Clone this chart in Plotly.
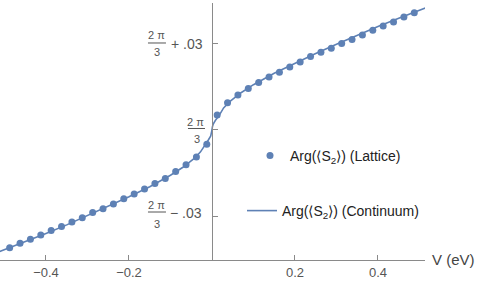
import plotly.graph_objects as go

# ---- data ----
TWO_PI_3 = 2.0944  # 2*pi/3

lattice_V = [-0.4875, -0.4625, -0.4375, -0.4125, -0.3875, -0.3625, -0.3375, -0.3125,
             -0.2875, -0.2625, -0.2375, -0.2125, -0.1875, -0.1625, -0.1375, -0.1125,
             -0.0875, -0.0625, -0.0375, -0.0125,
             0.0125, 0.0375, 0.0625, 0.0875, 0.1125, 0.1375, 0.1625, 0.1875,
             0.2125, 0.2375, 0.2625, 0.2875, 0.3125, 0.3375, 0.3625, 0.3875,
             0.4125, 0.4375, 0.4625, 0.4875]
lattice_arg = [2.0533, 2.0549, 2.0563, 2.0578, 2.0593, 2.0607, 2.0623, 2.0638,
               2.0656, 2.0669, 2.0686, 2.0704, 2.0721, 2.0738, 2.0757, 2.0775,
               2.0799, 2.0823, 2.0850, 2.0894,
               2.0996, 2.1039, 2.1066, 2.1089, 2.1110, 2.1129, 2.1145, 2.1164,
               2.1181, 2.1200, 2.1215, 2.1229, 2.1246, 2.1260, 2.1275, 2.1292,
               2.1307, 2.1321, 2.1338, 2.1353]

cont_V = [-0.515, -0.45, -0.4, -0.35, -0.3, -0.25, -0.2, -0.15, -0.1, -0.07, -0.045,
          -0.028, -0.017, -0.008, -0.003, -0.001, 0.0,
          0.001, 0.003, 0.008, 0.017, 0.028, 0.045, 0.07, 0.1, 0.15, 0.2, 0.25,
          0.3, 0.35, 0.4, 0.45, 0.515]
cont_arg = [2.0518, 2.0554, 2.0583, 2.0613, 2.0645, 2.0677, 2.0711, 2.0746, 2.0786,
            2.0814, 2.0842, 2.0867, 2.0894, 2.0911, 2.0923, 2.0933, 2.0944,
            2.0955, 2.0965, 2.0977, 2.0994, 2.1021, 2.1046, 2.1074, 2.1102, 2.1142,
            2.1177, 2.1211, 2.1243, 2.1275, 2.1305, 2.1334, 2.1370]

x_tickvals = [-0.4, -0.2, 0.2, 0.4]
x_ticktext = ["\u22120.4", "\u22120.2", "0.2", "0.4"]
y_tickvals = [TWO_PI_3 - 0.03, TWO_PI_3, TWO_PI_3 + 0.03]

BLUE = "#5E81B5"
AXIS = "#8a8a8a"
TICKFONT = "#555555"
FONT = "Liberation Sans, Arial, sans-serif"

fig = go.Figure()
fig.add_trace(go.Scatter(
    x=lattice_V, y=lattice_arg, mode="markers",
    marker=dict(color=BLUE, size=7),
    name="Arg(\u27e8S<sub>2</sub>\u27e9) (Lattice)", legend="legend"))
fig.add_trace(go.Scatter(
    x=cont_V, y=cont_arg, mode="lines", line=dict(color=BLUE, width=1.6),
    name="Arg(\u27e8S<sub>2</sub>\u27e9) (Continuum)", legend="legend2"))

annotations = []
shapes = []

def frac_label(yval, num_dx, num_dy, bar_x0, bar_x1, bar_dy, den_dx, den_dy, tail=None):
    annotations.append(dict(x=0, y=yval, xref="x", yref="y", text="2 \u03c0", showarrow=False,
                            xanchor="center", yanchor="middle", xshift=num_dx, yshift=num_dy,
                            font=dict(size=11, color=TICKFONT, family=FONT)))
    annotations.append(dict(x=0, y=yval, xref="x", yref="y", text="3", showarrow=False,
                            xanchor="center", yanchor="middle", xshift=den_dx, yshift=den_dy,
                            font=dict(size=11, color=TICKFONT, family=FONT)))
    shapes.append(dict(type="line", xref="x", yref="y", xsizemode="pixel", ysizemode="pixel",
                       xanchor=0, yanchor=yval, x0=bar_x0, x1=bar_x1, y0=bar_dy, y1=bar_dy,
                       line=dict(color=TICKFONT, width=1)))
    if tail:
        txt, dx, dy = tail
        annotations.append(dict(x=0, y=yval, xref="x", yref="y", text=txt, showarrow=False,
                                xanchor="left", yanchor="middle", xshift=dx, yshift=dy,
                                font=dict(size=14, color=TICKFONT, family=FONT)))

frac_label(y_tickvals[2], -55, 9, -64, -46, 1, -55, -8, ("+ .03", -43, 0))
frac_label(y_tickvals[1], -16, 8, -24, -7, 1.5, -15, -9)
frac_label(y_tickvals[0], -55, 11, -64, -46, 4, -55, -8, ("\u2212 .03", -44, 3))

annotations.append(dict(x=1, y=0, xref="paper", yref="paper", text="V (eV)", showarrow=False,
                        xanchor="left", yanchor="middle", xshift=5, yshift=1,
                        font=dict(size=15, color="#444444", family=FONT)))

fig.update_layout(
    width=477, height=282,
    margin=dict(l=0, r=52, t=3, b=22),
    plot_bgcolor="white", paper_bgcolor="white",
    font=dict(family=FONT),
    xaxis=dict(range=[-0.5108, 0.5133], showgrid=False, zeroline=False,
               showline=True, linecolor=AXIS, linewidth=1,
               ticks="inside", ticklen=5, tickcolor=AXIS,
               tickvals=x_tickvals, ticktext=x_ticktext,
               tickfont=dict(size=13, color=TICKFONT, family=FONT)),
    yaxis=dict(range=[TWO_PI_3 - 0.04535, TWO_PI_3 + 0.0443], showgrid=False, zeroline=False,
               anchor="free", position=212 / 425, showline=True, linecolor=AXIS, linewidth=1,
               ticks="inside", ticklen=5, tickcolor=AXIS,
               tickvals=y_tickvals, showticklabels=False),
    legend=dict(x=250 / 425, y=(260 - 156) / 257, xanchor="left", yanchor="middle",
                bgcolor="rgba(0,0,0,0)", font=dict(size=14, color="#222222", family=FONT)),
    legend2=dict(x=242 / 425, y=(260 - 211) / 257, xanchor="left", yanchor="middle",
                 bgcolor="rgba(0,0,0,0)", font=dict(size=14, color="#222222", family=FONT)),
    annotations=annotations,
    shapes=shapes,
    showlegend=True,
)

fig.write_html("out.html",
               config={"displayModeBar": False},
               post_script="document.body.style.margin='0';document.body.style.padding='0';")
